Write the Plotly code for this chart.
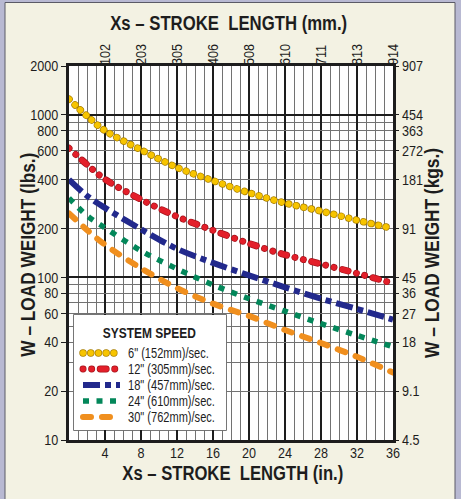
import plotly.graph_objects as go

# Stroke length (in.) at which the load curves are read
stroke_in = [0, 2, 4, 8, 12, 16, 20, 24, 28, 32, 36]

# Maximum load weight (lbs.) for each system speed
w_6 = [1250, 985, 800, 610, 475, 394, 332, 287, 256, 225, 200]
w_12 = [624, 495, 402, 302, 237, 195, 162, 138, 121, 106, 92]
w_18 = [400, 318, 268, 198, 150, 123, 103, 87, 74, 64, 55]
w_24 = [308, 240, 202, 146, 113, 90, 74, 62, 52, 44, 37.5]
w_30 = [248, 196, 159, 114, 86, 69, 58, 47.5, 39.5, 32.5, 26]

speed_labels = ['6" (152mm)/sec.', '12" (305mm)/sec.', '18" (457mm)/sec.',
                '24" (610mm)/sec.', '30" (762mm)/sec.']

# Axis tick values and labels
in_ticks = [4, 8, 12, 16, 20, 24, 28, 32, 36]
mm_labels = ["102", "203", "305", "406", "508", "610", "711", "813", "914"]
lbs_ticks = [10, 20, 40, 60, 80, 100, 200, 400, 600, 800, 1000, 2000]
kg_labels = ["4.5", "9.1", "18", "27", "36", "45", "91", "181", "272", "363", "454", "907"]

# ---- page geometry (pixels) ----
W, H = 461, 499
L, R, T, B = 69, 393, 66, 440


def fx(px):
    return (px - L) / (R - L)


def fy(py):
    return (B - py) / (B - T)


FONT = "Liberation Sans, Arial, sans-serif"
INK = "#1d1d1d"
GRID = "#727272"
CREAM = "#f3f2e3"
FRAME = "#b8b9d2"

series = [w_6, w_12, w_18, w_24, w_30]
styles = [
    dict(color="#f7c400", width=6, dash="0.1px,7.6px", cap="rnd", edge="#a97f00"),
    dict(color="#e31f2a", width=5.5, dash="0.1px,8.5px,0.1px,8.5px,6px,8.5px", cap="rnd", edge="#a5141c"),
    dict(color="#22298c", width=6, dash="17px,5px,6px,5px", cap="sq", edge=None),
    dict(color="#03875a", width=5.5, dash="6px,7.5px", cap="sq", edge=None),
    dict(color="#f08f1e", width=6, dash="8px,11px", cap="rnd", edge=None),
]


def styled_traces(xs, ys, st, tag, **kw):
    out = []
    if st["edge"]:
        out.append(go.Scatter(
            x=xs, y=ys, mode="lines", hoverinfo="skip", showlegend=False,
            uid=f"{st['cap']}edge{tag}",
            line=dict(color=st["edge"], width=st["width"] + 1.4, dash=st["dash"],
                      shape="spline", smoothing=0.9), **kw))
    out.append(go.Scatter(
        x=xs, y=ys, mode="lines", hoverinfo="skip", showlegend=False,
        uid=f"{st['cap']}line{tag}",
        line=dict(color=st["color"], width=st["width"], dash=st["dash"],
                  shape="spline", smoothing=0.9), **kw))
    return out


fig = go.Figure()
for i, (vals, st) in enumerate(zip(series, styles)):
    for tr in styled_traces(stroke_in, vals, st, f"c{i}"):
        fig.add_trace(tr)

# ---- legend (own small axes laid over the lower-left corner) ----
LEG_X0, LEG_X1, LEG_Y0, LEG_Y1 = 74, 226, 315, 430
ROW0, STEP = 353, 16
TEXT_X = 127
for k, st in enumerate(styles):
    yk = ROW0 + k * STEP
    for tr in styled_traces([83, 120], [yk, yk], st, f"l{k}", xaxis="x4", yaxis="y4"):
        fig.add_trace(tr)

annotations = [
    dict(text="SYSTEM SPEED", x=149, y=332, xref="x4", yref="y4", showarrow=False,
         xanchor="center", yanchor="middle",
         font=dict(family=FONT, size=15, color=INK, weight="bold")),
]
for k, lab in enumerate(speed_labels):
    annotations.append(dict(text=lab, x=TEXT_X, y=ROW0 + k * STEP, xref="x4", yref="y4",
                            xanchor="left", yanchor="middle", align="left", showarrow=False,
                            font=dict(family=FONT, size=14, color=INK)))

# ---- axis titles ----
TITLE_FONT = dict(family=FONT, size=20, color=INK, weight="bold")
annotations += [
    dict(text="Xs – STROKE  LENGTH (mm.)", x=fx(228.5), y=fy(23)),
    dict(text="Xs – STROKE  LENGTH (in.)", x=fx(232.5), y=fy(473)),
    dict(text="W – LOAD WEIGHT (lbs.)", x=fx(28), y=fy(255), textangle=-90),
    dict(text="W – LOAD WEIGHT (kgs.)", x=fx(432), y=fy(253), textangle=-90),
]
for a in annotations[-4:]:
    a.update(xref="paper", yref="paper", xanchor="center", yanchor="middle",
             showarrow=False, font=TITLE_FONT)

shapes = [
    # outer frame strips around the cream panel
    dict(type="rect", xref="paper", yref="paper", x0=fx(-2), x1=fx(5), y0=fy(502), y1=fy(-2),
         fillcolor=FRAME, line_width=0, layer="above"),
    dict(type="rect", xref="paper", yref="paper", x0=fx(455), x1=fx(463), y0=fy(502), y1=fy(-2),
         fillcolor=FRAME, line_width=0, layer="above"),
    dict(type="rect", xref="paper", yref="paper", x0=fx(-2), x1=fx(463), y0=fy(2.5), y1=fy(-2),
         fillcolor=FRAME, line_width=0, layer="above"),
    dict(type="rect", xref="paper", yref="paper", x0=fx(5), x1=fx(455), y0=fy(503), y1=fy(2.5),
         fillcolor="rgba(0,0,0,0)", line=dict(color="#5a5a66", width=1), layer="above"),
    # legend box
    dict(type="rect", xref="paper", yref="paper", x0=fx(LEG_X0), x1=fx(LEG_X1),
         y0=fy(LEG_Y1), y1=fy(LEG_Y0), fillcolor="white",
         line=dict(color="#4a4a4a", width=1.5), layer="between"),
]

TICK_FONT = dict(family=FONT, size=15, color=INK)
log_range = [1, 3.30103]
minor_lbs = [m * 10 ** d for d in (1, 2) for m in range(2, 10)]
minor_in = [v for v in range(1, 36) if v % 4]

fig.update_layout(
    width=W, height=H,
    margin=dict(l=L, r=W - R, t=T, b=H - B, pad=0),
    paper_bgcolor=CREAM, plot_bgcolor="white",
    showlegend=False,
    annotations=annotations, shapes=shapes,
    xaxis=dict(range=[0, 36], tickmode="array", tickvals=in_ticks,
               ticktext=[str(v) for v in in_ticks], ticks="", tickfont=TICK_FONT,
               ticklabelstandoff=-3,
               showgrid=True, gridcolor=INK, gridwidth=2.2,
               minor=dict(tickmode="array", tickvals=minor_in, showgrid=True,
                          gridcolor=GRID, gridwidth=1.2, ticks=""),
               showline=True, linecolor=INK, linewidth=2.5, mirror=True, zeroline=False),
    xaxis2=dict(range=[0, 36], overlaying="x", side="top", anchor="y",
                tickmode="array", tickvals=in_ticks, ticktext=mm_labels, tickangle=-90,
                ticks="", tickfont=TICK_FONT, showgrid=False, showline=False, zeroline=False),
    yaxis=dict(type="log", range=log_range, tickmode="array", tickvals=lbs_ticks,
               ticktext=[str(v) for v in lbs_ticks], ticks="outside", ticklen=5,
               tickwidth=1.2, tickcolor=INK, tickfont=TICK_FONT,
               showgrid=True, gridcolor=GRID, gridwidth=1.2,
               minor=dict(tickmode="array", tickvals=minor_lbs, showgrid=True,
                          gridcolor=GRID, gridwidth=1.2, ticks=""),
               showline=True, linecolor=INK, linewidth=2.5, mirror=True, zeroline=False),
    yaxis2=dict(type="log", range=log_range, overlaying="y", side="right", anchor="x",
                tickmode="array", tickvals=lbs_ticks, ticktext=kg_labels,
                ticks="outside", ticklen=5, tickwidth=1.2, tickcolor=INK,
                tickfont=TICK_FONT, showgrid=False, showline=False, zeroline=False),
    yaxis3=dict(type="log", range=log_range, overlaying="y", anchor="x",
                tickmode="array", tickvals=[100, 1000], showticklabels=False, ticks="",
                showgrid=True, gridcolor=INK, gridwidth=2.2, showline=False, zeroline=False),
    xaxis4=dict(domain=[fx(LEG_X0), fx(LEG_X1)], range=[LEG_X0, LEG_X1], anchor="y4",
                visible=False, fixedrange=True),
    yaxis4=dict(domain=[fy(LEG_Y1), fy(LEG_Y0)], range=[LEG_Y1, LEG_Y0], anchor="x4",
                visible=False, fixedrange=True),
)

# empty traces so the overlaid axes are laid out
fig.add_trace(go.Scatter(x=[], y=[], yaxis="y3", showlegend=False, hoverinfo="skip"))
fig.add_trace(go.Scatter(x=[], y=[], xaxis="x2", showlegend=False, hoverinfo="skip"))
fig.add_trace(go.Scatter(x=[], y=[], yaxis="y2", showlegend=False, hoverinfo="skip"))

# Round caps for the dotted / rounded-dash styles, and a condensed set of the
# type (the page fonts have no narrow face, so glyphs are squeezed in place).
post = """
var gd = document.getElementById('{plot_id}');
gd.querySelectorAll('g[class*="tracernd"] path.js-line').forEach(function (p) {
    p.style.strokeLinecap = 'round';
    p.style.strokeLinejoin = 'round';
});
var widths = {
    'Xs – STROKE  LENGTH (mm.)': 237,
    'Xs – STROKE  LENGTH (in.)': 221,
    'W – LOAD WEIGHT (lbs.)': 204,
    'W – LOAD WEIGHT (kgs.)': 210,
    'SYSTEM SPEED': 93
};
function squeeze(sel, f) {
    gd.querySelectorAll(sel).forEach(function (t) {
        var w = t.getComputedTextLength();
        if (!(w > 0)) return;
        var key = t.textContent.replace(/\\u00a0/g, ' ');
        var target = widths[key] !== undefined ? widths[key] : w * f;
        t.setAttribute('textLength', target.toFixed(2));
        t.setAttribute('lengthAdjust', 'spacingAndGlyphs');
    });
}
squeeze('.xtick text, .x2tick text, .ytick text, .y2tick text', 0.84);
squeeze('.annotation-text', 0.79);

// legend entries start flush at their column
var gl = gd.getBoundingClientRect();
gd.querySelectorAll('.annotation-text').forEach(function (t) {
    if (t.textContent.indexOf('/sec.') < 0) return;
    var r = t.getBoundingClientRect();
    var dx = (gl.left + __TEXT_X__) - r.left;
    var old = t.getAttribute('transform') || '';
    t.setAttribute('transform', 'translate(' + dx.toFixed(2) + ',0) ' + old);
});
""".replace("__TEXT_X__", str(TEXT_X + 1))

fig.write_html("out.html", post_script=post, config=dict(displayModeBar=False))
